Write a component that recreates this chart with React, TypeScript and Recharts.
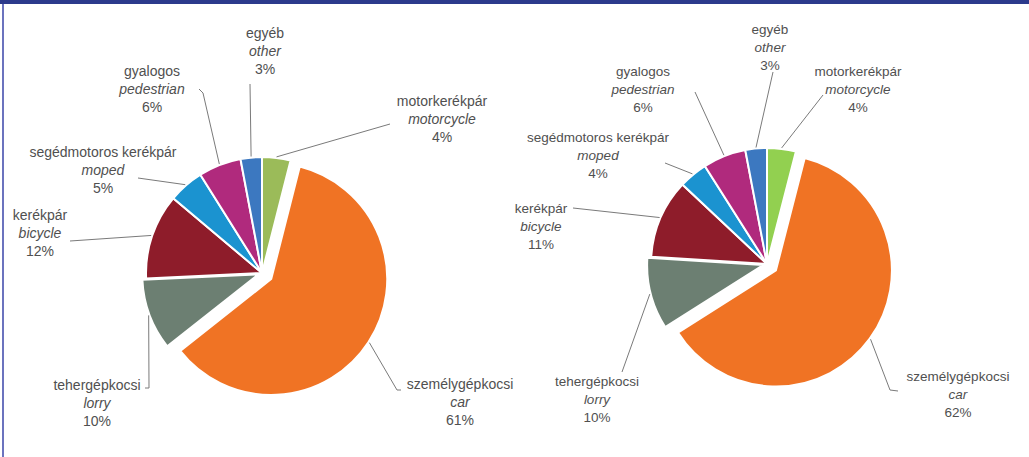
import { PieChart, Pie, Cell } from 'recharts'

// ── data ────────────────────────────────────────────────────────────────────

const categoriesHu = ['motorkerékpár', 'személygépkocsi', 'tehergépkocsi', 'kerékpár', 'segédmotoros kerékpár', 'gyalogos', 'egyéb']
const categoriesEn = ['motorcycle', 'car', 'lorry', 'bicycle', 'moped', 'pedestrian', 'other']
const valuesLeft = [4, 61, 10, 12, 5, 6, 3]
const valuesRight = [4, 62, 10, 11, 4, 6, 3]

// ── styles ──────────────────────────────────────────────────────────────────

const COLORS_LEFT = ['#9bbb59', '#f07324', '#6c7f72', '#8e1c2a', '#1b93d0', '#b02a7d', '#3c78c0']
const COLORS_RIGHT = ['#92d050', '#f07324', '#6c7f72', '#8e1c2a', '#1b93d0', '#b02a7d', '#3c78c0']
const EXPLODE = [0, 11, 4, 0, 0, 0, 0]
const TEXT = '#505050'
const LEADER = '#7a7a7a'
const FONT = '"Liberation Sans", Arial, sans-serif'

// label anchor + leader elbow points (label side first)
type LabelPos = { x: number; y: number; path: [number, number][] }

const LAYOUT_LEFT: LabelPos[] = [
  { x: 442, y: 106, path: [[390, 124]] },
  { x: 460, y: 389, path: [[401, 390], [397, 390]] },
  { x: 97, y: 390, path: [[145, 388], [149, 388]] },
  { x: 40, y: 220, path: [[70, 241]] },
  { x: 103, y: 157, path: [[138, 178]] },
  { x: 152, y: 76, path: [[199, 89], [203, 93]] },
  { x: 265, y: 38, path: [[250, 84]] },
]

const LAYOUT_RIGHT: LabelPos[] = [
  { x: 858, y: 76, path: [[823, 95]] },
  { x: 958, y: 381, path: [[898, 391], [890, 390]] },
  { x: 597, y: 386, path: [[622, 372]] },
  { x: 541, y: 213, path: [[573, 208]] },
  { x: 598, y: 142, path: [[665, 163]] },
  { x: 643, y: 76, path: [[695, 92]] },
  { x: 770, y: 34, path: [[773, 72]] },
]

const RADIAN = Math.PI / 180

function explodeOffset(values: number[], i: number, d: number): [number, number] {
  const total = values.reduce((a, b) => a + b, 0)
  const before = values.slice(0, i).reduce((a, b) => a + b, 0)
  const mid = (90 - (360 * (before + values[i] / 2)) / total) * RADIAN
  return [d * Math.cos(mid), -d * Math.sin(mid)]
}

function makeLabel(layout: LabelPos[], values: number[], fontSize: number) {
  return (props: any) => {
    const { cx, cy, midAngle, outerRadius, index } = props
    const pos = layout[index]
    const r = outerRadius + EXPLODE[index] + 1
    const sx = cx + r * Math.cos(-midAngle * RADIAN)
    const sy = cy + r * Math.sin(-midAngle * RADIAN)
    const pts = [...pos.path, [sx, sy]].map((p) => p.join(',')).join(' ')
    return (
      <g key={`lbl-${index}`}>
        <polyline points={pts} fill="none" stroke={LEADER} strokeWidth={1} />
        <text x={pos.x} y={pos.y} textAnchor="middle" fill={TEXT} fontSize={fontSize} fontFamily={FONT}>
          <tspan x={pos.x}>{categoriesHu[index]}</tspan>
          <tspan x={pos.x} dy={18} fontStyle="italic">{categoriesEn[index]}</tspan>
          <tspan x={pos.x} dy={18}>{values[index]}%</tspan>
        </text>
      </g>
    )
  }
}

function pieGroup(id: string, values: number[], colors: string[], layout: LabelPos[], cx: number, cy: number, r: number, fontSize: number) {
  const rows = categoriesEn.map((name, i) => ({ name, value: values[i] }))
  const pies = [
    <Pie
      key={`${id}-base`}
      data={rows}
      dataKey="value"
      cx={cx}
      cy={cy}
      outerRadius={r}
      startAngle={90}
      endAngle={-270}
      isAnimationActive={false}
      label={makeLabel(layout, values, fontSize)}
      labelLine={false}
    >
      {rows.map((_, i) => (
        <Cell key={i} fill={EXPLODE[i] ? 'none' : colors[i]} stroke={EXPLODE[i] ? 'none' : '#fff'} strokeWidth={2} />
      ))}
    </Pie>,
  ]
  EXPLODE.forEach((d, idx) => {
    if (!d) return
    const [dx, dy] = explodeOffset(values, idx, d)
    pies.push(
      <Pie
        key={`${id}-ex-${idx}`}
        data={rows}
        dataKey="value"
        cx={cx + dx}
        cy={cy + dy}
        outerRadius={r}
        startAngle={90}
        endAngle={-270}
        isAnimationActive={false}
      >
        {rows.map((_, i) => (
          <Cell key={i} fill={i === idx ? colors[i] : 'none'} stroke={i === idx ? '#fff' : 'none'} strokeWidth={2} />
        ))}
      </Pie>
    )
  })
  return pies
}

export default function App() {
  return (
    <div style={{ position: 'absolute', left: 0, top: 0, width: 1029, height: 457, background: '#fff', overflow: 'hidden' }}>
      {/* frame */}
      <div style={{ position: 'absolute', left: 0, top: 0, width: 1029, height: 4, background: '#2c3a8c' }} />
      <div style={{ position: 'absolute', left: 2, top: 4, width: 2, height: 453, background: '#6b73be' }} />
      <div style={{ position: 'absolute', left: 0, top: 0 }}>
        <PieChart width={1029} height={457}>
          {pieGroup('l', valuesLeft, COLORS_LEFT, LAYOUT_LEFT, 257, 268, 116, 14)}
          {pieGroup('r', valuesRight, COLORS_RIGHT, LAYOUT_RIGHT, 762, 259, 116, 13.5)}
        </PieChart>
      </div>
    </div>
  )
}
